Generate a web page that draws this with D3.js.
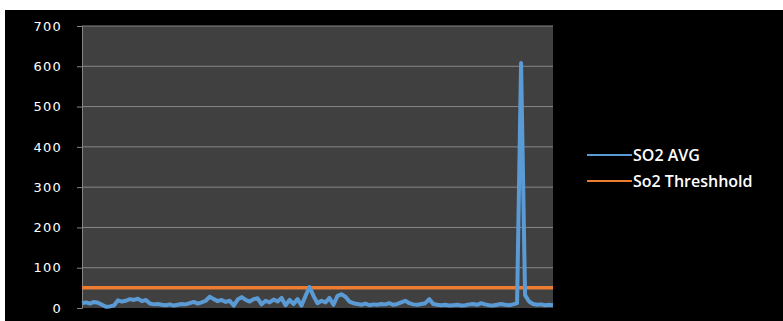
<!DOCTYPE html>
<html>
<head>
<meta charset="utf-8">
<script src="https://cdn.jsdelivr.net/npm/d3@7"></script>
<style>
  html, body { margin: 0; padding: 0; background: #ffffff; }
  svg { display: block; }
</style>
</head>
<body>
<svg id="chart" width="783" height="321"></svg>
<script>
// SO2 readings, one per sample
const so2Avg = [
  12, 14, 11, 15, 13, 8, 3, 4, 6, 19,
  16, 18, 22, 20, 23, 17, 20, 11, 9, 10,
  8, 7, 9, 6, 8, 10, 9, 12, 15, 11,
  14, 18, 28, 22, 17, 20, 15, 18, 6, 21,
  27, 20, 16, 22, 24, 9, 18, 14, 21, 16,
  25, 7, 20, 10, 22, 6, 30, 52, 30, 12,
  18, 14, 25, 8, 30, 34, 28, 16, 12, 10,
  8, 11, 7, 9, 8, 10, 9, 12, 8, 10,
  14, 18, 12, 9, 8, 10, 12, 22, 10, 8,
  7, 8, 6, 7, 8, 6, 7, 9, 10, 8,
  12, 9, 7, 6, 8, 10, 8, 7, 9, 12,
  608, 32, 16, 10, 8, 9, 7, 8, 7
];
const so2Threshold = 50;
const yTicks = [0, 100, 200, 300, 400, 500, 600, 700];
const seriesNames = ["SO2 AVG", "So2 Threshhold"];
const seriesColors = ["#5B9BD5", "#ED7D31"];

const svg = d3.select("#chart");

// black chart panel with a thin white border on the top and left
svg.append("rect").attr("x", 5).attr("y", 10).attr("width", 778).attr("height", 311).attr("fill", "#000");

const plot = { left: 82, right: 553, top: 26, bottom: 308 };

const x = d3.scaleLinear().domain([0, so2Avg.length - 1]).range([plot.left, plot.right]);
const y = d3.scaleLinear().domain([0, 700]).range([plot.bottom, plot.top]);

svg.append("rect")
  .attr("x", plot.left).attr("y", plot.top)
  .attr("width", plot.right - plot.left).attr("height", plot.bottom - plot.top)
  .attr("fill", "#404040");

// horizontal gridlines
svg.append("g").selectAll("line").data(yTicks.filter(d => d > 0)).join("line")
  .attr("x1", plot.left).attr("x2", plot.right)
  .attr("y1", d => y(d)).attr("y2", d => y(d))
  .attr("stroke", "#868686").attr("stroke-width", 1);

// value axis
const yAxis = svg.append("g")
  .attr("transform", `translate(${plot.left},0)`)
  .call(d3.axisLeft(y).tickValues(yTicks).tickSize(5).tickPadding(15));
yAxis.select(".domain").attr("stroke", "#868686");
yAxis.selectAll(".tick line").attr("stroke", "#868686");
yAxis.selectAll(".tick text")
  .attr("fill", "#ffffff")
  .attr("font-family", "DejaVu Sans, Verdana, sans-serif")
  .attr("font-size", 13)
  .attr("letter-spacing", 1.2);

// threshold
svg.append("line")
  .attr("x1", plot.left).attr("x2", plot.right)
  .attr("y1", y(so2Threshold)).attr("y2", y(so2Threshold))
  .attr("stroke", seriesColors[1]).attr("stroke-width", 3.5);

// SO2 average series
const line = d3.line().x((d, i) => x(i)).y(d => y(d));
svg.append("path")
  .datum(so2Avg)
  .attr("d", line)
  .attr("fill", "none")
  .attr("stroke", seriesColors[0])
  .attr("stroke-width", 4)
  .attr("stroke-linejoin", "round");

// legend
const legend = svg.append("g").selectAll("g").data(seriesNames).join("g")
  .attr("transform", (d, i) => `translate(587,${155 + i * 26})`);
legend.append("line")
  .attr("x1", 0).attr("x2", 45).attr("y1", 0).attr("y2", 0)
  .attr("stroke", (d, i) => seriesColors[i]).attr("stroke-width", 2);
legend.append("text")
  .attr("x", 46).attr("y", 0).attr("dy", "0.35em")
  .attr("fill", "#ffffff")
  .attr("font-family", "Open Sans, sans-serif")
  .attr("font-size", 16)
  .attr("font-weight", 600)
  .text(d => d);
</script>
</body>
</html>
